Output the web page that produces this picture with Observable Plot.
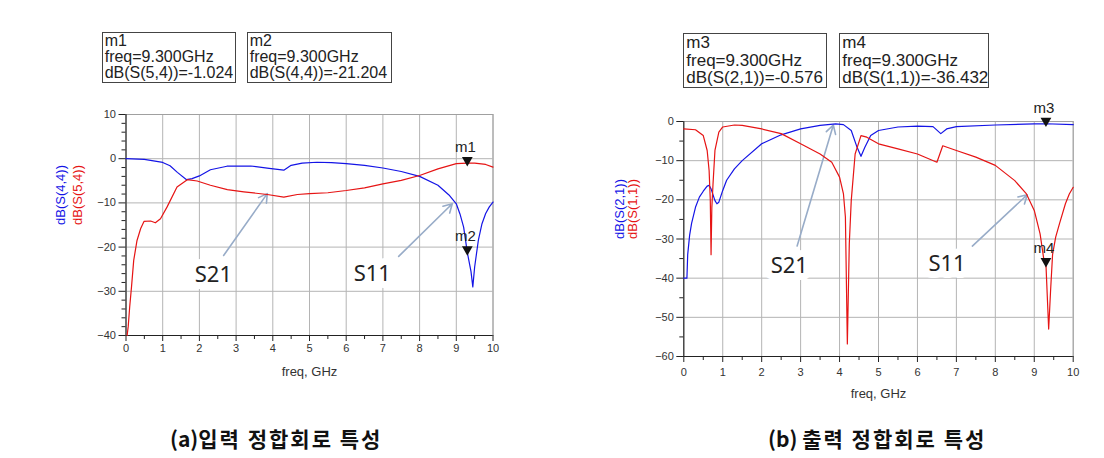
<!DOCTYPE html>
<html><head><meta charset="utf-8">
<script src="https://cdn.jsdelivr.net/npm/d3@7"></script>
<script src="https://cdn.jsdelivr.net/npm/@observablehq/plot@0.6"></script>
<style>
body{margin:0;background:#fff;}
#root{position:relative;width:1104px;height:458px;background:#fff;overflow:hidden;font-family:"Liberation Sans",Arial,sans-serif;}
.box{position:absolute;box-sizing:border-box;border:1px solid #444;color:#222;white-space:nowrap;padding-left:2px;}
.cap{position:absolute;font-family:"Noto Sans CJK KR",sans-serif;font-weight:bold;font-size:21px;letter-spacing:2px;color:#111;white-space:nowrap;line-height:24px;}
.cap span{letter-spacing:0;}
.plot{position:absolute;}
</style></head>
<body><div id="root"></div>
<script>
// ---------- data ----------
// (a) input matching: S(4,4) blue, S(5,4) red
const aS44Freq = [0,0.5,1,1.2,1.4,1.65,1.8,2,2.3,2.75,3.4,3.9,4.3,4.5,4.8,5.2,5.6,6,6.5,7,7.5,8,8.5,8.8,9,9.1,9.2,9.3,9.4,9.45,9.5,9.6,9.7,9.8,9.9,10];
const aS44 = [0,-0.15,-0.85,-1.6,-3.1,-4.75,-4.5,-3.9,-2.5,-1.7,-1.65,-2.2,-2.6,-1.5,-1.0,-0.8,-0.9,-1.1,-1.5,-2.1,-2.9,-4.0,-6.0,-8.2,-10.2,-12.5,-15.5,-21.2,-25.5,-29,-24.5,-18.5,-14.7,-12.4,-10.9,-9.8];
const aS54Freq = [0.03,0.06,0.1,0.15,0.21,0.3,0.4,0.49,0.67,0.8,0.94,1.12,1.39,1.67,1.94,2.3,2.76,3.21,3.85,4.3,4.67,5,5.5,6,6.5,7,7.5,8,8.5,9,9.3,9.5,9.8,10];
const aS54 = [-40,-38,-33.6,-29,-23,-18.5,-15.8,-14.2,-14.1,-14.5,-13.6,-10.9,-6.4,-4.75,-5.05,-6.0,-7.0,-7.5,-8.1,-8.7,-8.1,-7.9,-7.7,-7.2,-6.6,-5.7,-4.9,-3.8,-2.3,-1.1,-1.0,-1.0,-1.3,-1.9];

// (b) output matching: S(2,1) blue, S(1,1) red
const bS21Freq = [0,0.08,0.1,0.15,0.2,0.3,0.4,0.5,0.6,0.65,0.7,0.8,0.85,0.9,1,1.1,1.3,1.5,2,2.5,3,3.5,3.9,4.1,4.3,4.45,4.55,4.65,4.8,5,5.5,6,6.4,6.6,6.75,7,8,9,9.3,10];
const bS21 = [-40,-40,-34,-29,-26,-21.9,-19.3,-17.8,-16.5,-16.3,-17.2,-20.2,-21,-20.6,-17.6,-15,-12.1,-10,-5.7,-3.4,-1.9,-1.0,-0.6,-0.8,-2.3,-6.6,-8.9,-6.6,-3.6,-2.3,-1.4,-1.2,-1.3,-3.1,-1.9,-1.3,-0.9,-0.6,-0.576,-0.8];
const bS11Freq = [0,0.3,0.5,0.6,0.65,0.68,0.7,0.72,0.75,0.8,0.9,1,1.3,1.5,2,2.5,3,3.5,3.8,4,4.1,4.15,4.2,4.25,4.3,4.4,4.55,4.7,5,5.5,6,6.5,6.65,7,7.5,8,8.5,8.8,9,9.15,9.25,9.3,9.37,9.42,9.47,9.55,9.65,9.8,9.9,10];
const bS11 = [-1.9,-2.1,-3.6,-7.4,-12.5,-20,-34,-22,-16,-7.4,-2.7,-1.4,-0.9,-1.0,-1.9,-3.1,-5.7,-8.3,-10.4,-14.2,-18.5,-24.4,-56.8,-31.2,-20.2,-8.3,-3.6,-4.0,-5.7,-7.0,-8.3,-10.4,-6.2,-7.4,-9.1,-11.2,-15.1,-18.5,-22.7,-28.7,-35.5,-36.432,-53,-43,-34,-29.5,-26,-21,-18.5,-16.8];

// markers
const aMarkers = [
  {name:"m1", freq:9.3, value:-1.024, expr:"dB(S(5,4))"},
  {name:"m2", freq:9.3, value:-21.204, expr:"dB(S(4,4))"}
];
const bMarkers = [
  {name:"m3", freq:9.3, value:-0.576, expr:"dB(S(2,1))"},
  {name:"m4", freq:9.3, value:-36.432, expr:"dB(S(1,1))"}
];

// annotations (label position, arrow tail, arrow head in data units)
const aNotes = [
  {label:"S21", lx:2.38, ly:-26.4, x1:2.66, y1:-21.9, x2:3.85, y2:-7.9},
  {label:"S11", lx:6.71, ly:-26.0, x1:7.43, y1:-22.1, x2:8.89, y2:-10.2}
];
const bNotes = [
  {label:"S21", lx:2.71, ly:-36.9, x1:2.91, y1:-31.8, x2:3.84, y2:-0.9},
  {label:"S11", lx:6.76, ly:-36.3, x1:7.41, y1:-31.8, x2:8.82, y2:-18.7}
];

// axis ticks
const xMajor = [0,1,2,3,4,5,6,7,8,9,10];
const xMinor = [0.5,1.5,2.5,3.5,4.5,5.5,6.5,7.5,8.5,9.5];
const aYMajor = [10,0,-10,-20,-30,-40];
const aYMinor = [8,6,4,2,-2,-4,-6,-8,-12,-14,-16,-18,-22,-24,-26,-28,-32,-34,-36,-38];
const bYMajor = [0,-10,-20,-30,-40,-50,-60];
const bYMinor = [-5,-15,-25,-35,-45,-55];

const captionTags = ["(a)", "(b) "];
const captions = ["입력 정합회로 특성", "출력 정합회로 특성"];
const yLabels = [["dB(S(4,4))","dB(S(5,4))"],["dB(S(2,1))","dB(S(1,1))"]];

// ---------- drawing ----------
const BLUE = "#1414e6", RED = "#e61414", ARROW = "#98acc8";
const pts = (fs, vs) => fs.map((f,i) => ({f, v: vs[i]}));

function chart({w, h, ml, mr, mt, mb, yDomain, yMajor, yMinor, series, markers, notes, labels, labDx, xTickPad, xLabDy}) {
  const yMin = yDomain[0];
  return Plot.plot({
    width: w, height: h, marginLeft: ml, marginRight: mr, marginTop: mt, marginBottom: mb,
    x: {domain: [0,10], label: null},
    y: {domain: yDomain, label: null},
    style: {fontFamily: "'Liberation Sans', Arial, sans-serif", fontSize: "11px", background: "transparent", overflow: "visible", color: "#333"},
    marks: [
      Plot.gridX(xMajor, {stroke: "#b4b4b4", strokeOpacity: 1}),
      Plot.gridY(yMajor, {stroke: "#b4b4b4", strokeOpacity: 1}),
      Plot.frame({stroke: "#a0a0a0"}),
      Plot.axisX(xMinor, {tickSize: 4, tickFormat: () => "", stroke: "#222"}),
      Plot.axisX(xMajor, {tickSize: 6, tickPadding: xTickPad, stroke: "#222", fill: "#333"}),
      Plot.axisY(yMinor, {tickSize: 4, tickFormat: () => "", stroke: "#222"}),
      Plot.axisY(yMajor, {tickSize: 7, tickPadding: 3, stroke: "#222", fill: "#333"}),
      Plot.ruleX([0], {stroke: "#222"}),
      Plot.ruleY([yMin], {stroke: "#222"}),
      Plot.text(["freq, GHz"], {frameAnchor: "bottom", dy: xLabDy, fontSize: 13, fill: "#333"}),
      Plot.text([labels[0]], {frameAnchor: "left", dx: labDx[0], rotate: -90, fontSize: 13, fill: BLUE}),
      Plot.text([labels[1]], {frameAnchor: "left", dx: labDx[1], rotate: -90, fontSize: 13, fill: RED}),
      Plot.text(notes, {x: "lx", y: "ly", text: "label", fontSize: 22, fontFamily: "'Noto Sans', sans-serif", fill: "#222", stroke: "white", strokeWidth: 14}),
      Plot.arrow(notes, {x1: "x1", y1: "y1", x2: "x2", y2: "y2", stroke: ARROW, strokeWidth: 1.6, headLength: 9}),
      ...series.map(s => Plot.line(s.data, {x: "f", y: "v", stroke: s.color, strokeWidth: 1.2})),
      Plot.dot(markers, {x: "freq", y: "value", symbol: "triangle", r: 4, fill: "#111", rotate: 180, dy: -3}),
      Plot.text(markers, {x: "freq", y: "value", text: "name", dy: -16, dx: -2, fontSize: 15, fill: "#222"})
    ]
  });
}

const root = document.getElementById("root");

const pa = chart({w: 470, h: 290, ml: 85.5, mr: 17.5, mt: 14, mb: 55, yDomain: [-40,10], yMajor: aYMajor, yMinor: aYMinor,
  series: [{data: pts(aS44Freq, aS44), color: BLUE}, {data: pts(aS54Freq, aS54), color: RED}],
  markers: aMarkers, notes: aNotes, labels: yLabels[0], labDx: [-65.5, -48], xTickPad: 3, xLabDy: 40});
pa.classList.add("plot"); pa.style.left = "40px"; pa.style.top = "100px";
root.appendChild(pa);

const pb = chart({w: 480, h: 310, ml: 73.3, mr: 17.3, mt: 21, mb: 54, yDomain: [-60,0], yMajor: bYMajor, yMinor: bYMinor,
  series: [{data: pts(bS21Freq, bS21), color: BLUE}, {data: pts(bS11Freq, bS11), color: RED}],
  markers: bMarkers, notes: bNotes, labels: yLabels[1], labDx: [-64.3, -51.3], xTickPad: 6, xLabDy: 41});
pb.classList.add("plot"); pb.style.left = "610px"; pb.style.top = "100px";
root.appendChild(pb);

// marker readout boxes
function box(m, left, top, w, h, fs, lh) {
  const d = document.createElement("div");
  d.className = "box";
  Object.assign(d.style, {left: left+"px", top: top+"px", width: w+"px", height: h+"px", fontSize: fs+"px", lineHeight: lh+"px"});
  d.innerHTML = `${m.name}<br>freq=${m.freq.toFixed(3)}GHz<br>${m.expr}=${m.value.toFixed(3)}`;
  root.appendChild(d);
}
box(aMarkers[0], 101.7, 32.3, 134.5, 50.5, 16, 15.8);
box(aMarkers[1], 246.7, 32.3, 145.6, 50.5, 16, 15.8);
box(bMarkers[0], 683.3, 33.3, 143.4, 55, 17, 17.5);
box(bMarkers[1], 839.3, 33.3, 150, 55, 17, 17.5);

// captions
[0, 1].forEach(i => {
  const d = document.createElement("div");
  d.className = "cap";
  const s = document.createElement("span");
  s.textContent = captionTags[i];
  d.appendChild(s);
  d.appendChild(document.createTextNode(captions[i]));
  d.style.left = (i === 0 ? 170 : 768) + "px"; d.style.top = "426px";
  root.appendChild(d);
});
</script></body></html>
